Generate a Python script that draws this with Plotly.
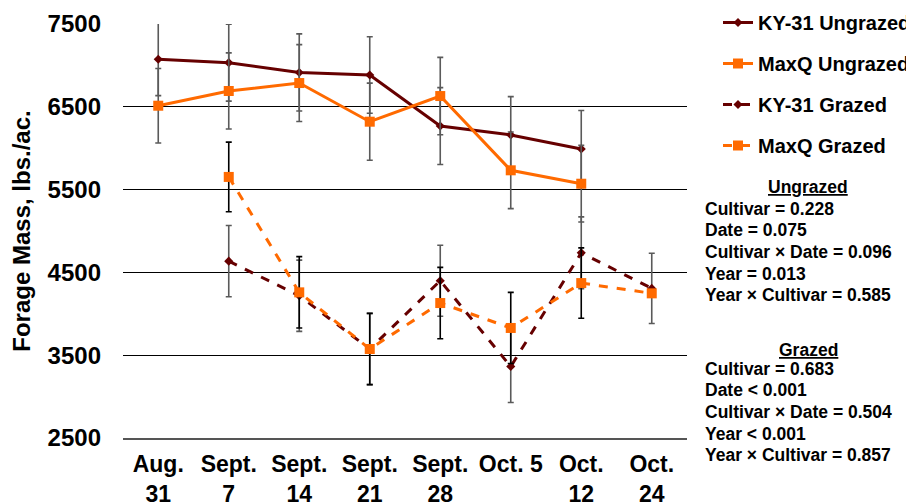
import plotly.graph_objects as go

dates = ["Aug.<br>31", "Sept.<br>7", "Sept.<br>14", "Sept.<br>21", "Sept.<br>28",
         "Oct. 5", "Oct.<br>12", "Oct.<br>24"]

ky_ungrazed = [7075, 7033, 6915, 6884, 6268, 6160, 5990]
ky_ungrazed_err = [440, 465, 466, 462, 464, 463, 465]
maxq_ungrazed = [6513, 6691, 6787, 6320, 6630, 5733, 5571]
maxq_ungrazed_err = [450, 460, 464, 466, 467, 463, 463]

ky_grazed = [4636, 4218, 3575, 4399, 3363, 4736, 4307]
ky_grazed_err = [430, 430, 430, 428, 435, 434, 425]
maxq_grazed = [5653, 4259, 3575, 4130, 3829, 4371, 4247]
maxq_grazed_err = [420, 431, 430, 431, 430, 425, 0]

stats_ungrazed = ["Cultivar = 0.228", "Date = 0.075", "Cultivar × Date = 0.096",
                  "Year = 0.013", "Year × Cultivar = 0.585"]
stats_grazed = ["Cultivar = 0.683", "Date < 0.001", "Cultivar × Date = 0.504",
                "Year < 0.001", "Year × Cultivar = 0.857"]

MAROON = "#660000"
ORANGE = "#FF6A00"
FONT = "Arial, Liberation Sans, sans-serif"

# page body has an 8px margin: figure origin sits at (8, 8) in the screenshot
O = 8
W, H = 914 - O, 503 - O
# plot area in figure pixels
L, R, T, B = 123 - O, 687 - O, 24 - O, 438 - O


def px(xs, ys):
    """screen pixel -> paper coords"""
    return (xs - O - L) / (R - L), (B - (ys - O)) / (B - T)


fig = go.Figure()


def add(name, x, y, err, color, symbol, msize, dash, errcolor, grp):
    fig.add_trace(go.Scatter(
        x=x, y=y, name=name, mode="lines+markers", legendgroup=grp,
        line=dict(color=color, width=3, dash=dash),
        marker=dict(color=color, symbol=symbol, size=msize),
        error_y=dict(type="data", array=err, visible=True, color=errcolor,
                     thickness=1.6, width=3),
    ))


add("KY-31 Ungrazed", dates[:7], ky_ungrazed, ky_ungrazed_err, MAROON, "diamond", 7, "solid", "#5a5a5a", "a")
add("MaxQ Ungrazed", dates[:7], maxq_ungrazed, maxq_ungrazed_err, ORANGE, "square", 10, "solid", "#5a5a5a", "b")
add("KY-31 Grazed", dates[1:], ky_grazed, ky_grazed_err, MAROON, "diamond", 7, "dash", "#5a5a5a", "c")
add("MaxQ Grazed", dates[1:], maxq_grazed, maxq_grazed_err, ORANGE, "square", 10, "dash", "#000000", "d")

ann = []


def block(title, lines, ytitle, yfirst):
    x, y = px(808, ytitle)
    ann.append(dict(text="<u>" + title + "</u>", x=x, y=y, xref="paper", yref="paper",
                    showarrow=False, xanchor="center", yanchor="middle",
                    font=dict(family=FONT, size=17.5, color="black", weight="bold")))
    for i, t in enumerate(lines):
        x, y = px(703, yfirst + 21.7 * i)
        ann.append(dict(text=t, x=x, y=y, xref="paper", yref="paper",
                        showarrow=False, xanchor="left", yanchor="middle",
                        font=dict(family=FONT, size=17.5, color="black", weight="bold")))


block("Ungrazed", stats_ungrazed, 187, 208.5)
block("Grazed", stats_grazed, 350, 368.5)

lx, ly = px(718, 3)

fig.update_layout(
    width=W, height=H, autosize=False,
    margin=dict(l=L, r=W - R, t=T, b=H - B, autoexpand=False),
    paper_bgcolor="white", plot_bgcolor="white",
    font=dict(family=FONT, color="black", weight="bold"),
    showlegend=True,
    legend=dict(x=lx, xanchor="left", y=ly, yanchor="top",
                font=dict(family=FONT, size=20, color="black", weight="bold"),
                tracegroupgap=12, bgcolor="rgba(0,0,0,0)"),
    annotations=ann,
    yaxis=dict(range=[2500, 7500], tick0=2500, dtick=1000, showgrid=True,
               gridcolor="black", gridwidth=1, zeroline=False, automargin=False,
               tickfont=dict(family=FONT, size=24, color="black", weight="bold"),
               ticklabelstandoff=21,
               title=dict(text="Forage Mass, lbs./ac.", standoff=17,
                          font=dict(family=FONT, size=24, color="black", weight="bold")),
               ticks=""),
    xaxis=dict(type="category", showgrid=False, showline=True, linecolor="#555555",
               linewidth=1.5, ticks="", range=[-0.5, 7.5], automargin=False,
               ticklabelstandoff=5,
               tickfont=dict(family=FONT, size=23, color="black", weight="bold")),
)

fig.write_html("out.html")
